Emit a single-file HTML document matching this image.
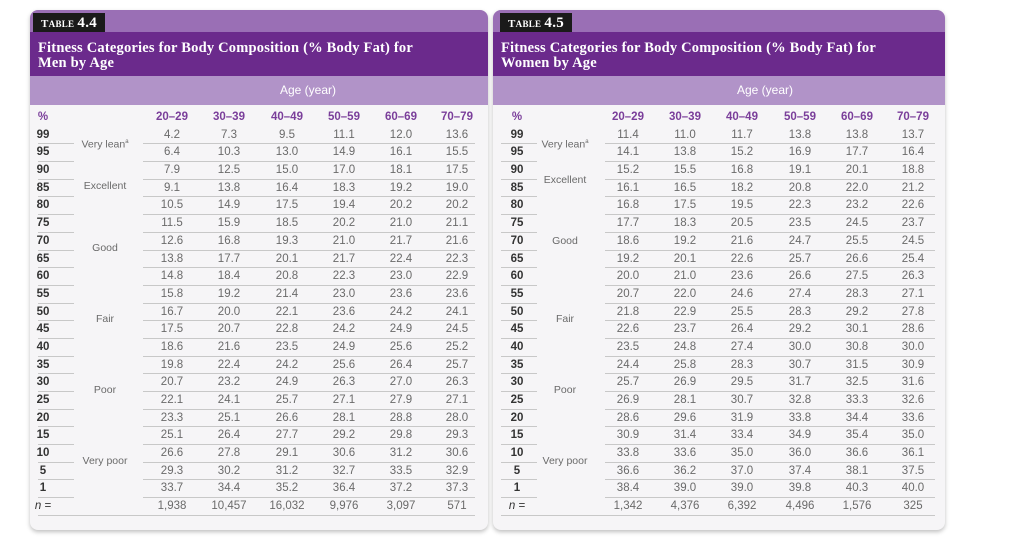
<!DOCTYPE html>
<html><head><meta charset="utf-8"><style>
body{margin:0;width:1024px;height:545px;background:#fff;position:relative;overflow:hidden;font-family:"Liberation Sans",sans-serif}
.card{position:absolute;top:10px;height:520px;background:#f6f5f7;border-radius:8px;box-shadow:0 2px 4px rgba(0,0,0,.25)}
.tab{position:absolute;top:3px;left:3px;height:19px;background:#1a1a1a;color:#fff;font:bold 11px "Liberation Serif",serif;line-height:20px;padding:0 8px;letter-spacing:.3px}
.tab b{font-size:15px}
.top{position:absolute;left:0;right:0;top:0;height:22px;background:#9a6fb5;border-radius:8px 8px 0 0}
.title{position:absolute;left:0;right:0;top:22px;height:44px;background:#6b2a8c;color:#fff;font:bold 14.5px "Liberation Serif",serif;line-height:15px;padding:9px 8px 0;box-sizing:border-box;letter-spacing:.2px}
.band{position:absolute;left:0;right:0;top:66px;height:29px;background:#b193c8;color:#fff;font-size:12px;line-height:29px}
.rows{position:absolute;left:0;right:0;top:99px}
.r{position:relative;height:17.7px;line-height:17.7px;font-size:11.5px;color:#6a6a6a}
.r span{position:absolute;width:54px;margin-left:-27px;text-align:center}
.r span:first-child{color:#333;font-weight:bold}
.r:before{content:"";position:absolute;left:var(--dl);width:var(--dw);bottom:0;border-bottom:1px solid #c8c8c8}
.r:after{content:"";position:absolute;left:8px;width:36px;bottom:0;border-bottom:1px solid #c8c8c8}
.h span{color:#7a3e9a!important;font-weight:bold}
.h span:first-child{color:#7a3e9a}
.h:before,.h:after{display:none}
.n span:first-child{font-style:italic;font-weight:normal}
.n:after{left:8px;width:var(--nw)}
.L .r span:nth-child(1){left:13px}.L .r span:nth-child(2){left:142px}.L .r span:nth-child(3){left:199px}.L .r span:nth-child(4){left:257px}.L .r span:nth-child(5){left:314px}.L .r span:nth-child(6){left:371px}.L .r span:nth-child(7){left:427px}
.R .r span:nth-child(1){left:24px}.R .r span:nth-child(2){left:135px}.R .r span:nth-child(3){left:192px}.R .r span:nth-child(4){left:249px}.R .r span:nth-child(5){left:307px}.R .r span:nth-child(6){left:364px}.R .r span:nth-child(7){left:420px}
.L{--dl:113px;--dw:332px;--nw:437px}
.R{--dl:112px;--dw:330px;--nw:434px}
.cat{position:absolute;font-size:10.5px;color:#6a6a6a;width:80px;margin-left:-40px;text-align:center;line-height:12px;margin-top:-6px}
</style></head><body>

<div class="card L" style="left:30px;width:458px">
<div class="top"></div><div class="tab">T<span style="font-size:9px">ABLE</span> <b>4.4</b></div>
<div class="title">Fitness Categories for Body Composition (% Body Fat) for<br>Men by Age</div>
<div class="band"><span style="position:absolute;left:280px;margin-left:-30px">Age (year)</span></div>
<div class="rows">
<div class="r h"><span>%</span><span>20–29</span><span>30–39</span><span>40–49</span><span>50–59</span><span>60–69</span><span>70–79</span></div>
<div class="r"><span>99</span><span>4.2</span><span>7.3</span><span>9.5</span><span>11.1</span><span>12.0</span><span>13.6</span></div>
<div class="r"><span>95</span><span>6.4</span><span>10.3</span><span>13.0</span><span>14.9</span><span>16.1</span><span>15.5</span></div>
<div class="r"><span>90</span><span>7.9</span><span>12.5</span><span>15.0</span><span>17.0</span><span>18.1</span><span>17.5</span></div>
<div class="r"><span>85</span><span>9.1</span><span>13.8</span><span>16.4</span><span>18.3</span><span>19.2</span><span>19.0</span></div>
<div class="r"><span>80</span><span>10.5</span><span>14.9</span><span>17.5</span><span>19.4</span><span>20.2</span><span>20.2</span></div>
<div class="r"><span>75</span><span>11.5</span><span>15.9</span><span>18.5</span><span>20.2</span><span>21.0</span><span>21.1</span></div>
<div class="r"><span>70</span><span>12.6</span><span>16.8</span><span>19.3</span><span>21.0</span><span>21.7</span><span>21.6</span></div>
<div class="r"><span>65</span><span>13.8</span><span>17.7</span><span>20.1</span><span>21.7</span><span>22.4</span><span>22.3</span></div>
<div class="r"><span>60</span><span>14.8</span><span>18.4</span><span>20.8</span><span>22.3</span><span>23.0</span><span>22.9</span></div>
<div class="r"><span>55</span><span>15.8</span><span>19.2</span><span>21.4</span><span>23.0</span><span>23.6</span><span>23.6</span></div>
<div class="r"><span>50</span><span>16.7</span><span>20.0</span><span>22.1</span><span>23.6</span><span>24.2</span><span>24.1</span></div>
<div class="r"><span>45</span><span>17.5</span><span>20.7</span><span>22.8</span><span>24.2</span><span>24.9</span><span>24.5</span></div>
<div class="r"><span>40</span><span>18.6</span><span>21.6</span><span>23.5</span><span>24.9</span><span>25.6</span><span>25.2</span></div>
<div class="r"><span>35</span><span>19.8</span><span>22.4</span><span>24.2</span><span>25.6</span><span>26.4</span><span>25.7</span></div>
<div class="r"><span>30</span><span>20.7</span><span>23.2</span><span>24.9</span><span>26.3</span><span>27.0</span><span>26.3</span></div>
<div class="r"><span>25</span><span>22.1</span><span>24.1</span><span>25.7</span><span>27.1</span><span>27.9</span><span>27.1</span></div>
<div class="r"><span>20</span><span>23.3</span><span>25.1</span><span>26.6</span><span>28.1</span><span>28.8</span><span>28.0</span></div>
<div class="r"><span>15</span><span>25.1</span><span>26.4</span><span>27.7</span><span>29.2</span><span>29.8</span><span>29.3</span></div>
<div class="r"><span>10</span><span>26.6</span><span>27.8</span><span>29.1</span><span>30.6</span><span>31.2</span><span>30.6</span></div>
<div class="r"><span>5</span><span>29.3</span><span>30.2</span><span>31.2</span><span>32.7</span><span>33.5</span><span>32.9</span></div>
<div class="r"><span>1</span><span>33.7</span><span>34.4</span><span>35.2</span><span>36.4</span><span>37.2</span><span>37.3</span></div>
<div class="r n"><span>n =</span><span>1,938</span><span>10,457</span><span>16,032</span><span>9,976</span><span>3,097</span><span>571</span></div>
</div>
<div class="cat" style="left:75px;top:132px">Very lean<sup style="font-size:6px">a</sup></div>
<div class="cat" style="left:75px;top:176px">Excellent</div>
<div class="cat" style="left:75px;top:238px">Good</div>
<div class="cat" style="left:75px;top:309px">Fair</div>
<div class="cat" style="left:75px;top:380px">Poor</div>
<div class="cat" style="left:75px;top:451px">Very poor</div>
</div>

<div class="card R" style="left:493px;width:452px">
<div class="top"></div><div class="tab" style="left:7px">T<span style="font-size:9px">ABLE</span> <b>4.5</b></div>
<div class="title">Fitness Categories for Body Composition (% Body Fat) for<br>Women by Age</div>
<div class="band"><span style="position:absolute;left:274px;margin-left:-30px">Age (year)</span></div>
<div class="rows">
<div class="r h"><span>%</span><span>20–29</span><span>30–39</span><span>40–49</span><span>50–59</span><span>60–69</span><span>70–79</span></div>
<div class="r"><span>99</span><span>11.4</span><span>11.0</span><span>11.7</span><span>13.8</span><span>13.8</span><span>13.7</span></div>
<div class="r"><span>95</span><span>14.1</span><span>13.8</span><span>15.2</span><span>16.9</span><span>17.7</span><span>16.4</span></div>
<div class="r"><span>90</span><span>15.2</span><span>15.5</span><span>16.8</span><span>19.1</span><span>20.1</span><span>18.8</span></div>
<div class="r"><span>85</span><span>16.1</span><span>16.5</span><span>18.2</span><span>20.8</span><span>22.0</span><span>21.2</span></div>
<div class="r"><span>80</span><span>16.8</span><span>17.5</span><span>19.5</span><span>22.3</span><span>23.2</span><span>22.6</span></div>
<div class="r"><span>75</span><span>17.7</span><span>18.3</span><span>20.5</span><span>23.5</span><span>24.5</span><span>23.7</span></div>
<div class="r"><span>70</span><span>18.6</span><span>19.2</span><span>21.6</span><span>24.7</span><span>25.5</span><span>24.5</span></div>
<div class="r"><span>65</span><span>19.2</span><span>20.1</span><span>22.6</span><span>25.7</span><span>26.6</span><span>25.4</span></div>
<div class="r"><span>60</span><span>20.0</span><span>21.0</span><span>23.6</span><span>26.6</span><span>27.5</span><span>26.3</span></div>
<div class="r"><span>55</span><span>20.7</span><span>22.0</span><span>24.6</span><span>27.4</span><span>28.3</span><span>27.1</span></div>
<div class="r"><span>50</span><span>21.8</span><span>22.9</span><span>25.5</span><span>28.3</span><span>29.2</span><span>27.8</span></div>
<div class="r"><span>45</span><span>22.6</span><span>23.7</span><span>26.4</span><span>29.2</span><span>30.1</span><span>28.6</span></div>
<div class="r"><span>40</span><span>23.5</span><span>24.8</span><span>27.4</span><span>30.0</span><span>30.8</span><span>30.0</span></div>
<div class="r"><span>35</span><span>24.4</span><span>25.8</span><span>28.3</span><span>30.7</span><span>31.5</span><span>30.9</span></div>
<div class="r"><span>30</span><span>25.7</span><span>26.9</span><span>29.5</span><span>31.7</span><span>32.5</span><span>31.6</span></div>
<div class="r"><span>25</span><span>26.9</span><span>28.1</span><span>30.7</span><span>32.8</span><span>33.3</span><span>32.6</span></div>
<div class="r"><span>20</span><span>28.6</span><span>29.6</span><span>31.9</span><span>33.8</span><span>34.4</span><span>33.6</span></div>
<div class="r"><span>15</span><span>30.9</span><span>31.4</span><span>33.4</span><span>34.9</span><span>35.4</span><span>35.0</span></div>
<div class="r"><span>10</span><span>33.8</span><span>33.6</span><span>35.0</span><span>36.0</span><span>36.6</span><span>36.1</span></div>
<div class="r"><span>5</span><span>36.6</span><span>36.2</span><span>37.0</span><span>37.4</span><span>38.1</span><span>37.5</span></div>
<div class="r"><span>1</span><span>38.4</span><span>39.0</span><span>39.0</span><span>39.8</span><span>40.3</span><span>40.0</span></div>
<div class="r n"><span>n =</span><span>1,342</span><span>4,376</span><span>6,392</span><span>4,496</span><span>1,576</span><span>325</span></div>
</div>
<div class="cat" style="left:72px;top:132px">Very lean<sup style="font-size:6px">a</sup></div>
<div class="cat" style="left:72px;top:170px">Excellent</div>
<div class="cat" style="left:72px;top:231px">Good</div>
<div class="cat" style="left:72px;top:309px">Fair</div>
<div class="cat" style="left:72px;top:380px">Poor</div>
<div class="cat" style="left:72px;top:451px">Very poor</div>
</div>
</body></html>
